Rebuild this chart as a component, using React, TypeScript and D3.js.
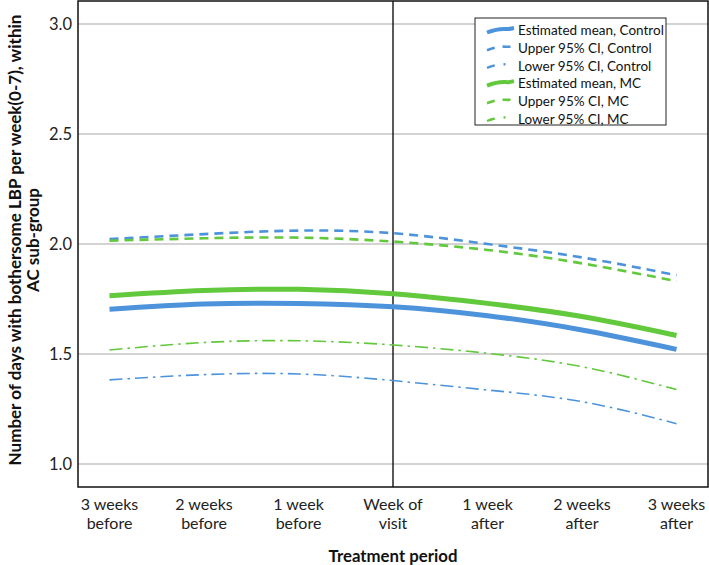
import { useEffect, useRef } from 'react';
import * as d3 from 'd3';

// periods on the x axis (two lines each)
const periods = [
  ['3 weeks', 'before'],
  ['2 weeks', 'before'],
  ['1 week', 'before'],
  ['Week of', 'visit'],
  ['1 week', 'after'],
  ['2 weeks', 'after'],
  ['3 weeks', 'after'],
];

const yTicks = [1.0, 1.5, 2.0, 2.5, 3.0];

// values, one per period
const meanControl = [1.703, 1.727, 1.73, 1.715, 1.674, 1.609, 1.521];
const upperControl = [2.022, 2.045, 2.061, 2.049, 2.0, 1.939, 1.858];
const lowerControl = [1.382, 1.406, 1.409, 1.379, 1.336, 1.283, 1.183];
const meanMC = [1.765, 1.788, 1.794, 1.774, 1.73, 1.67, 1.584];
const upperMC = [2.015, 2.026, 2.029, 2.011, 1.973, 1.912, 1.831];
const lowerMC = [1.518, 1.552, 1.56, 1.541, 1.503, 1.442, 1.338];

const BLUE = '#4d93db';
const GREEN = '#62c83c';

const series = [
  { name: 'Estimated mean, Control', values: meanControl, color: BLUE, width: 5, dash: null },
  { name: 'Upper 95% CI, Control', values: upperControl, color: BLUE, width: 2.6, dash: '9,6' },
  { name: 'Lower 95% CI, Control', values: lowerControl, color: BLUE, width: 1.6, dash: '13,5,2.5,5' },
  { name: 'Estimated mean, MC', values: meanMC, color: GREEN, width: 5, dash: null },
  { name: 'Upper 95% CI, MC', values: upperMC, color: GREEN, width: 2.6, dash: '9,6' },
  { name: 'Lower 95% CI, MC', values: lowerMC, color: GREEN, width: 1.6, dash: '13,5,2.5,5' },
];

const FONT = 'Lato, "Open Sans", sans-serif';

export default function App() {
  const ref = useRef<SVGSVGElement>(null);

  useEffect(() => {
    const W = 709;
    const H = 565;
    const left = 78, right = 708, top = 1, bottom = 487;

    const svg = d3.select(ref.current);
    svg.selectAll('*').remove();

    const x = d3.scaleLinear().domain([-1 / 3, periods.length - 1 + 1 / 3]).range([left, right]);
    const y = d3.scaleLinear().domain([0.895, 3.105]).range([bottom, top]);

    svg.append('rect').attr('width', W).attr('height', H).attr('fill', '#fff');

    // gridlines
    svg.append('g')
      .selectAll('line')
      .data(yTicks)
      .join('line')
      .attr('x1', left).attr('x2', right)
      .attr('y1', d => y(d)).attr('y2', d => y(d))
      .attr('stroke', '#c4c4c4')
      .attr('stroke-width', 1.5);

    // y tick labels
    svg.append('g')
      .selectAll('text')
      .data(yTicks)
      .join('text')
      .attr('x', 72)
      .attr('y', d => y(d))
      .attr('dy', '0.35em')
      .attr('text-anchor', 'end')
      .attr('font-family', FONT)
      .attr('font-size', 16.5)
      .attr('fill', '#222')
      .text(d => d.toFixed(1));

    // vertical reference line at week of visit
    svg.append('line')
      .attr('x1', x(3)).attr('x2', x(3))
      .attr('y1', top).attr('y2', bottom)
      .attr('stroke', '#000')
      .attr('stroke-width', 1.3);

    // curves
    const line = d3.line<number>()
      .x((_, i) => x(i))
      .y(d => y(d))
      .curve(d3.curveNatural);

    const drawOrder = [1, 4, 2, 5, 0, 3];
    svg.append('g')
      .selectAll('path')
      .data(drawOrder.map(i => series[i]))
      .join('path')
      .attr('d', d => line(d.values))
      .attr('fill', 'none')
      .attr('stroke', d => d.color)
      .attr('stroke-width', d => d.width)
      .attr('stroke-dasharray', d => d.dash)
      .attr('stroke-linecap', 'butt');

    // frame
    svg.append('rect')
      .attr('x', left).attr('y', top)
      .attr('width', right - left).attr('height', bottom - top)
      .attr('fill', 'none')
      .attr('stroke', '#111')
      .attr('stroke-width', 1.5);

    // x tick labels
    const xt = svg.append('g')
      .selectAll('text')
      .data(periods)
      .join('text')
      .attr('x', (_, i) => x(i))
      .attr('text-anchor', 'middle')
      .attr('font-family', FONT)
      .attr('font-size', 16)
      .attr('fill', '#222');
    xt.append('tspan').attr('x', (_, i) => x(i)).attr('y', 510).text(d => d[0]);
    xt.append('tspan').attr('x', (_, i) => x(i)).attr('y', 529).text(d => d[1]);

    // axis titles
    svg.append('text')
      .attr('x', x(3))
      .attr('y', 562)
      .attr('text-anchor', 'middle')
      .attr('font-family', FONT)
      .attr('font-weight', 'bold')
      .attr('font-size', 16.8)
      .attr('fill', '#111')
      .text('Treatment period');

    const yt = svg.append('text')
      .attr('transform', `translate(0,240) rotate(-90)`)
      .attr('text-anchor', 'middle')
      .attr('font-family', FONT)
      .attr('font-weight', 'bold')
      .attr('font-size', 17)
      .attr('fill', '#111');
    yt.append('tspan').attr('x', 0).attr('y', 21).text('Number of days with bothersome LBP per week(0-7), within');
    yt.append('tspan').attr('x', 0).attr('y', 39).text('AC sub-group');

    // legend
    const lg = svg.append('g');
    lg.append('rect')
      .attr('x', 475).attr('y', 18)
      .attr('width', 191).attr('height', 107)
      .attr('fill', '#fff')
      .attr('stroke', '#222')
      .attr('stroke-width', 1);

    const rowY = d3.scaleLinear().domain([0, series.length - 1]).range([30.5, 119]);
    const rows = lg.selectAll('g')
      .data(series)
      .join('g')
      .attr('transform', (_, i) => `translate(0,${rowY(i)})`);

    rows.append('path')
      .attr('d', 'M487,2 C495,-1 500,-2 506,-1.5 C509,-1 511,-2 514,-2.5')
      .attr('fill', 'none')
      .attr('stroke', d => d.color)
      .attr('stroke-width', d => (d.dash ? Math.max(d.width, 2.4) : 4))
      .attr('stroke-dasharray', d => (d.dash ? (d.width > 2 ? '8,8,8' : '8,9,2,20') : null));

    rows.append('text')
      .attr('x', 518)
      .attr('dy', '0.35em')
      .attr('font-family', FONT)
      .attr('font-size', 13.5)
      .attr('fill', '#111')
      .text(d => d.name);
  }, []);

  return (
    <svg
      ref={ref}
      width={709}
      height={565}
      style={{ position: 'absolute', left: 0, top: 0 }}
    />
  );
}
